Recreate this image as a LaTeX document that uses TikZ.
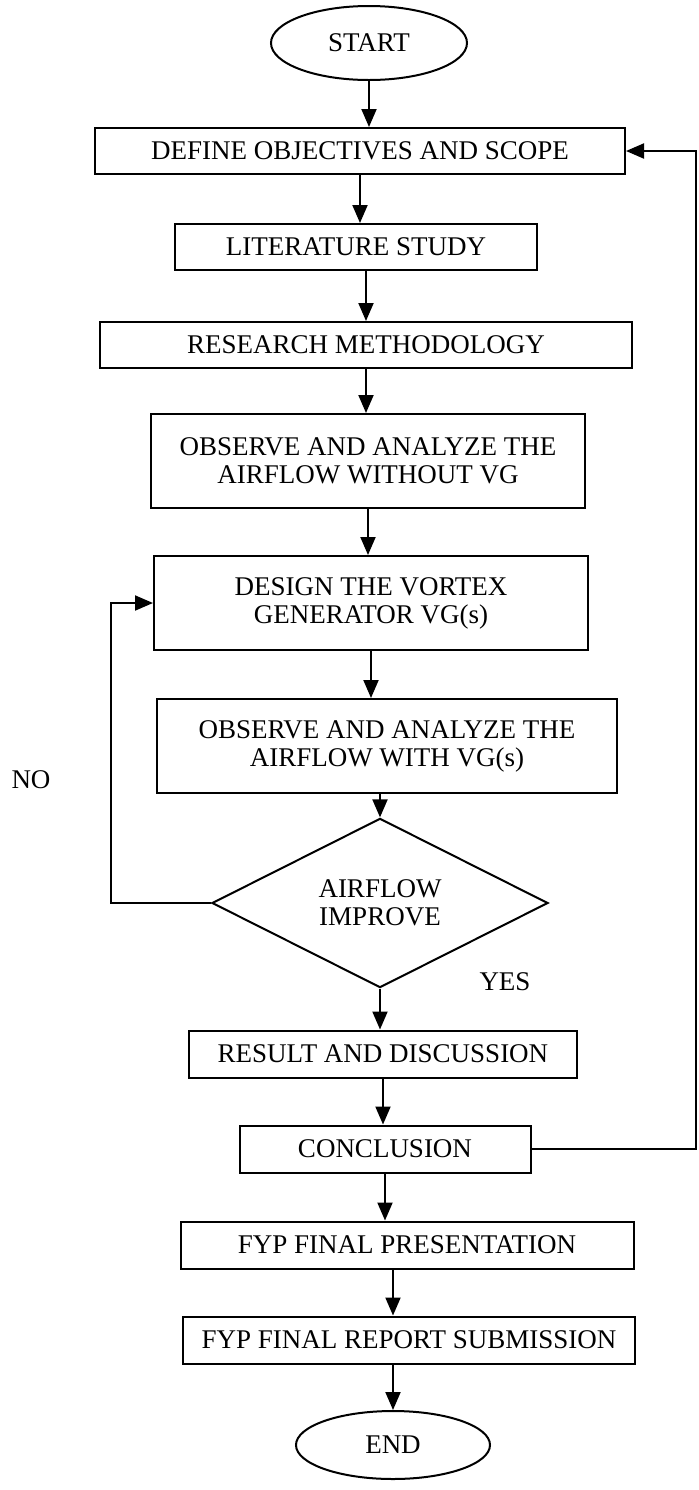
\documentclass[tikz,border=0pt]{standalone}
\usepackage{fontspec}
\setmainfont{Liberation Serif}
\usetikzlibrary{arrows.meta, shapes.geometric, positioning, calc}
\tikzset{
  box/.style={draw, line width=1pt, rectangle, align=center, inner sep=2pt},
  term/.style={draw, line width=1pt, ellipse, inner sep=0pt},
  decision/.style={draw, line width=1pt, diamond, align=center, inner sep=0pt},
  arr/.style={line width=1pt, -{Triangle[length=9pt,width=7.5pt]}},
  lnk/.style={line width=1pt}
}
\newcommand{\txt}{\fontsize{13.5}{14}\selectfont}

\begin{document}
\begin{tikzpicture}[x=0.5pt, y=-0.5pt, font=\txt]
\useasboundingbox (0,0) rectangle (698,1490);

%Start and end blocks
\node[term, minimum width=98pt, minimum height=37pt] (start) at (369,43) {START};
\node[term, minimum width=97pt, minimum height=34pt] (endn) at (393,1445) {END};

%Process boxes
\node[box, minimum width=265pt, minimum height=23pt] (def) at (360,151) {DEFINE OBJECTIVES AND SCOPE};
\node[box, minimum width=181pt, minimum height=23pt] (lit) at (356,247) {LITERATURE STUDY};
\node[box, minimum width=266pt, minimum height=23pt] (res) at (366,345) {RESEARCH METHODOLOGY};
\node[box, minimum width=217pt, minimum height=47pt] (obsa) at (368,461) {OBSERVE AND ANALYZE THE\\AIRFLOW WITHOUT VG};
\node[box, minimum width=217pt, minimum height=47pt] (des) at (371,603) {DESIGN THE VORTEX\\GENERATOR VG(s)};
\node[box, minimum width=230pt, minimum height=47pt] (obsb) at (387,746) {OBSERVE AND ANALYZE THE\\AIRFLOW WITH VG(s)};
\node[decision, minimum width=168pt, minimum height=64pt] (imp) at (380,903) {AIRFLOW\\IMPROVE};
\node[box, minimum width=194pt, minimum height=23.5pt] (rsl) at (383,1054) {RESULT AND DISCUSSION};
\node[box, minimum width=145.5pt, minimum height=23.5pt] (conc) at (385,1149) {CONCLUSION};
\node[box, minimum width=226.5pt, minimum height=23.5pt] (pres) at (407,1245) {FYP FINAL PRESENTATION};
\node[box, minimum width=226pt, minimum height=23.5pt] (rep) at (409,1340) {FYP FINAL REPORT SUBMISSION};

%Branch labels
\node (no) at (31,780) {NO};
\node (yes) at (505,982) {YES};

%Main flow
\draw[arr] (start.south) -- (start.south |- def.north);
\draw[arr] (def.south) -- (def.south |- lit.north);
\draw[arr] (res.north |- lit.south) -- (res.north);
\draw[arr] (res.south) -- (res.south |- obsa.north);
\draw[arr] (obsa.south) -- (obsa.south |- des.north);
\draw[arr] (des.south) -- (des.south |- obsb.north);
\draw[arr] (imp.north |- obsb.south) -- (imp.north);
\draw[arr] (imp.south) -- (imp.south |- rsl.north);
\draw[arr] (rsl.south) -- (rsl.south |- conc.north);
\draw[arr] (conc.south) -- (conc.south |- pres.north);
\draw[arr] (endn.north |- pres.south) -- (endn.north |- rep.north);
\draw[arr] (endn.north |- rep.south) -- (endn.north);

%Loop back when airflow does not improve
\coordinate (noline) at (111,0);
\draw[arr] (imp.west) -- (imp.west -| noline) |- (des.west);

%Loop back from conclusion to objectives
\coordinate (fbline) at (696,0);
\draw[arr] (conc.east) -- (conc.east -| fbline) |- (def.east);
\end{tikzpicture}
\end{document}
